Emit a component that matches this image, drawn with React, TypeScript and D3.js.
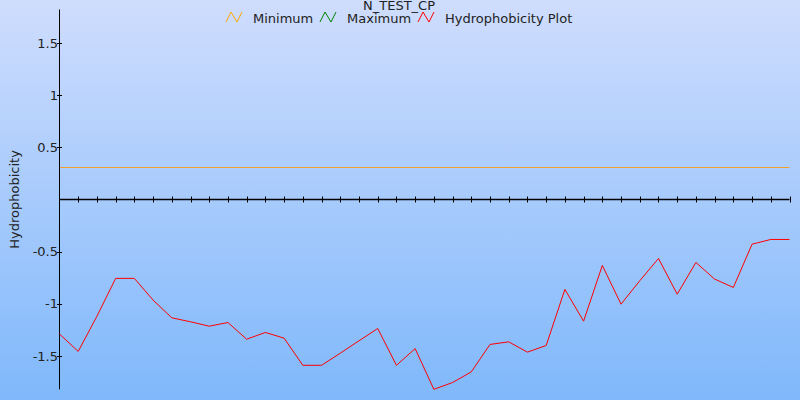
import React, { useEffect, useRef } from "react";
import * as d3 from "d3";

// hydrophobicity per window position
const hydro = [
	-1.29, -1.457, -1.12, -0.757, -0.757, -0.965, -1.135, -1.173, -1.215, -1.18,
	-1.34, -1.275, -1.33, -1.59, -1.59, -1.474, -1.355, -1.237, -1.59, -1.43,
	-1.82, -1.755, -1.653, -1.39, -1.365, -1.464, -1.4, -0.863, -1.167, -0.633,
	-1.004, -0.78, -0.566, -0.908, -0.604, -0.764, -0.844, -0.429, -0.384, -0.384,
];
const minimumLevel = 0.31;
const yTicks = [-1.5, -1, -0.5, 0.5, 1, 1.5];
const yDomain = [-1.82, 1.82];
const legendItems = [
	{ label: "Minimum", color: "#ffa500", x: 226 },
	{ label: "Maximum", color: "#008000", x: 320 },
	{ label: "Hydrophobicity Plot", color: "#ff0000", x: 418 },
];

export default function App() {
	const svgRef = useRef(null);

	useEffect(() => {
		const width = 800;
		const height = 400;
		const svg = d3.select(svgRef.current);
		svg.selectAll("*").remove();
		svg.attr("width", width).attr("height", height).style("font-family", "DejaVu Sans");

		const grad = svg
			.append("defs")
			.append("linearGradient")
			.attr("id", "bg")
			.attr("x1", 0)
			.attr("y1", 0)
			.attr("x2", 0)
			.attr("y2", 1);
		grad.append("stop").attr("offset", "0%").attr("stop-color", "#cfddfd");
		grad.append("stop").attr("offset", "100%").attr("stop-color", "#7fb8fb");
		svg.append("rect").attr("width", width).attr("height", height).attr("fill", "url(#bg)");

		const x = d3.scaleLinear().domain([0, hydro.length - 1]).range([59.5, 789.5]);
		const y = d3.scaleLinear().domain(yDomain).range([389.3, 9.5]);
		const y0 = Math.round(y(0)) + 0.5;

		// minimum reference line
		svg
			.append("line")
			.attr("x1", x(0))
			.attr("x2", x(hydro.length - 1))
			.attr("y1", Math.round(y(minimumLevel)) + 0.5)
			.attr("y2", Math.round(y(minimumLevel)) + 0.5)
			.attr("stroke", "#f0a030")
			.attr("stroke-width", 1);

		// axes
		svg
			.append("line")
			.attr("x1", 59.5)
			.attr("x2", 59.5)
			.attr("y1", y(yDomain[1]))
			.attr("y2", y(yDomain[0]))
			.attr("stroke", "#000");
		svg
			.append("line")
			.attr("x1", 59.5)
			.attr("x2", x(hydro.length - 1))
			.attr("y1", y0)
			.attr("y2", y0)
			.attr("stroke", "#000")
			.attr("stroke-width", 1.5);
		svg
			.append("g")
			.selectAll("line")
			.data(d3.range(1, hydro.length))
			.join("line")
			.attr("x1", (d) => Math.round(x(d)) + 0.5)
			.attr("x2", (d) => Math.round(x(d)) + 0.5)
			.attr("y1", y0 - 3)
			.attr("y2", y0 + 3)
			.attr("stroke", "#000");

		const yt = svg.append("g");
		yt.selectAll("line")
			.data(yTicks)
			.join("line")
			.attr("x1", 57)
			.attr("x2", 62)
			.attr("y1", (d) => Math.round(y(d)) + 0.5)
			.attr("y2", (d) => Math.round(y(d)) + 0.5)
			.attr("stroke", "#000");
		yt.selectAll("text")
			.data(yTicks)
			.join("text")
			.attr("x", 58)
			.attr("y", (d) => y(d))
			.attr("dy", "0.36em")
			.attr("text-anchor", "end")
			.attr("font-size", 13)
			.attr("fill", "#222")
			.text((d) => String(d));

		svg
			.append("text")
			.attr("transform", `translate(19,${y(0)}) rotate(-90)`)
			.attr("text-anchor", "middle")
			.attr("font-size", 13)
			.attr("fill", "#222")
			.text("Hydrophobicity");

		// data line
		svg
			.append("path")
			.datum(hydro)
			.attr("fill", "none")
			.attr("stroke", "#ff0000")
			.attr("stroke-width", 1)
			.attr(
				"d",
				d3
					.line<number>()
					.x((d, i) => x(i))
					.y((d) => y(d)),
			);

		// title & legend
		svg
			.append("text")
			.attr("x", 399)
			.attr("y", 10)
			.attr("text-anchor", "middle")
			.attr("font-size", 13)
			.attr("fill", "#222")
			.text("N_TEST_CP");

		const leg = svg.append("g").selectAll("g").data(legendItems).join("g");
		leg.append("path")
			.attr("d", (d) => `M${d.x},22 L${d.x + 5},12 L${d.x + 11},22 L${d.x + 16},12`)
			.attr("fill", "none")
			.attr("stroke", (d) => d.color);
		leg.append("text")
			.attr("x", (d) => d.x + 27)
			.attr("y", 23)
			.attr("font-size", 13)
			.attr("fill", "#222")
			.text((d) => d.label);
	}, []);

	return (
		<div style={{ position: "fixed", left: 0, top: 0 }}>
			<svg ref={svgRef} style={{ display: "block" }} />
		</div>
	);
}
